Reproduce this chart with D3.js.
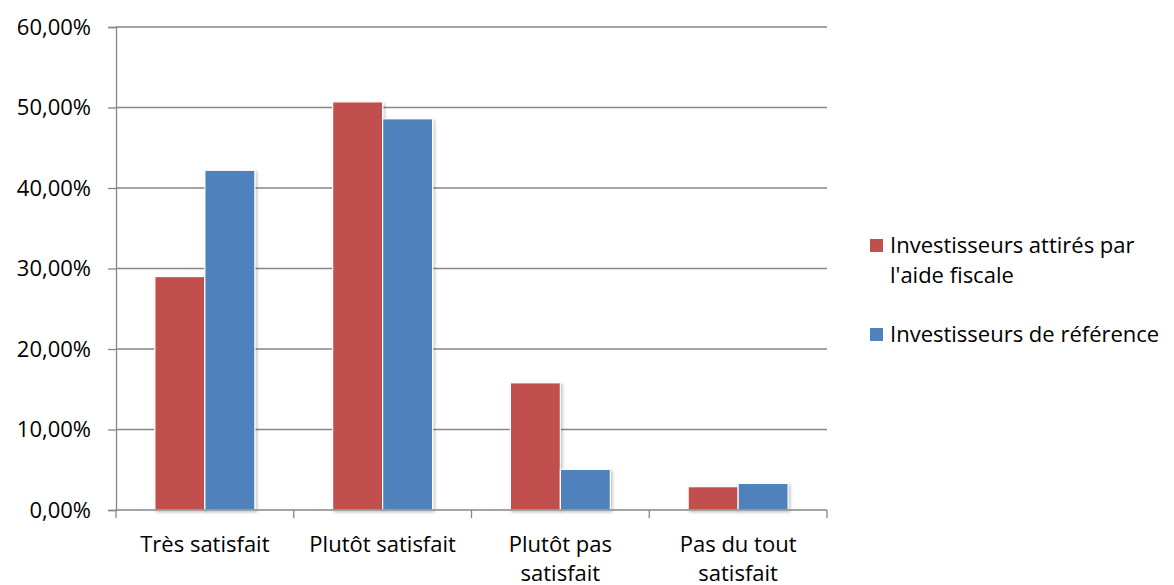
<!DOCTYPE html>
<html><head><meta charset="utf-8">
<script src="https://cdn.jsdelivr.net/npm/d3@7"></script>
<style>body{margin:0;background:#fff}svg{display:block}text{font-family:"Open Sans",Lato,sans-serif;fill:#000}</style>
</head><body>
<script>
const categories = ["Très satisfait", "Plutôt satisfait", "Plutôt pas satisfait", "Pas du tout satisfait"];
const categoryLines = [["Très satisfait"], ["Plutôt satisfait"], ["Plutôt pas", "satisfait"], ["Pas du tout", "satisfait"]];
const seriesNames = ["Investisseurs attirés par l'aide fiscale", "Investisseurs de référence"];
const attires = [29.0, 50.7, 15.8, 2.9];
const reference = [42.2, 48.6, 5.05, 3.3];
const yTicks = [0, 10, 20, 30, 40, 50, 60];
const colors = ["#C0504D", "#4F81BD"];

(function () {
const W = 1174, H = 585;
const svg = d3.select("body").append("svg").attr("width", W).attr("height", H);
const defs = svg.append("defs");
const f = defs.append("filter").attr("id", "sh").attr("x", "-20%").attr("y", "-20%").attr("width", "140%").attr("height", "140%");
f.append("feDropShadow").attr("dx", 1.5).attr("dy", 1.5).attr("stdDeviation", 1.5).attr("flood-color", "#000").attr("flood-opacity", 0.25);

const pLeft = 116, pRight = 827, pTop = 27, pBottom = 510;
const x = d3.scaleBand().domain(categories).range([pLeft, pRight]).paddingInner(0).paddingOuter(0);
const y = d3.scaleLinear().domain([0, 60]).range([pBottom, pTop]);
const x1 = d3.scaleBand().domain([0, 1]).range([0, 100]);

// gridlines
svg.append("g").selectAll("line").data(yTicks.filter(d => d > 0)).join("line")
  .attr("x1", pLeft).attr("x2", pRight).attr("y1", d => y(d)).attr("y2", d => y(d))
  .attr("stroke", "#868686").attr("stroke-width", 1.3);

// y axis
const yAxis = d3.axisLeft(y).tickValues(yTicks).tickSize(8).tickPadding(17)
  .tickFormat(d => d3.format(".2f")(d).replace(".", ",") + "%");
const gy = svg.append("g").attr("transform", `translate(${pLeft},0)`).call(yAxis);
gy.select(".domain").attr("stroke", "#868686").attr("stroke-width", 1.3);
gy.selectAll(".tick line").attr("stroke", "#868686").attr("stroke-width", 1.3);
gy.selectAll(".tick text").attr("font-size", 22).attr("font-family", "Open Sans").attr("fill", "#000");

// bars
const groups = svg.append("g").selectAll("g").data(categories).join("g")
  .attr("transform", d => `translate(${x(d) + x.bandwidth() / 2 - 51},0)`);
const data = categories.map((c, i) => [attires[i], reference[i]]);
groups.selectAll("rect").data((d, i) => data[i]).join("rect")
  .attr("x", (d, j) => x1(j) + 1)
  .attr("width", x1.bandwidth())
  .attr("y", d => y(d))
  .attr("height", d => pBottom - y(d))
  .attr("fill", (d, j) => colors[j])
  .attr("stroke", "#fff").attr("stroke-width", 1.2)
  .attr("filter", "url(#sh)");

// x axis
const gx = svg.append("g").attr("transform", `translate(0,${pBottom})`);
gx.append("line").attr("x1", pLeft).attr("x2", pRight).attr("stroke", "#868686").attr("stroke-width", 1.3);
const tickXs = categories.map(c => x(c)).concat([pRight]);
gx.selectAll("line.t").data(tickXs).join("line").attr("class", "t")
  .attr("x1", d => d).attr("x2", d => d).attr("y1", 0).attr("y2", 8)
  .attr("stroke", "#868686").attr("stroke-width", 1.3);
categories.forEach((c, i) => {
  const t = gx.append("text").attr("text-anchor", "middle").attr("font-size", 22)
    .attr("x", x(c) + x.bandwidth() / 2).attr("y", 42);
  categoryLines[i].forEach((ln, k) => t.append("tspan").attr("x", x(c) + x.bandwidth() / 2).attr("dy", k ? 29 : 0).text(ln));
});

// legend
const leg = svg.append("g");
const legendLines = [["Investisseurs attirés par", "l'aide fiscale"], ["Investisseurs de référence"]];
const legY = [239, 328];
seriesNames.forEach((s, i) => {
  leg.append("rect").attr("x", 870).attr("y", legY[i]).attr("width", 13).attr("height", 13).attr("fill", colors[i]);
  const t = leg.append("text").attr("font-size", 22).attr("x", 890).attr("y", legY[i] + 14);
  legendLines[i].forEach((ln, k) => t.append("tspan").attr("x", 890).attr("dy", k ? 30 : 0).text(ln));
});
})();
</script>
</body></html>
